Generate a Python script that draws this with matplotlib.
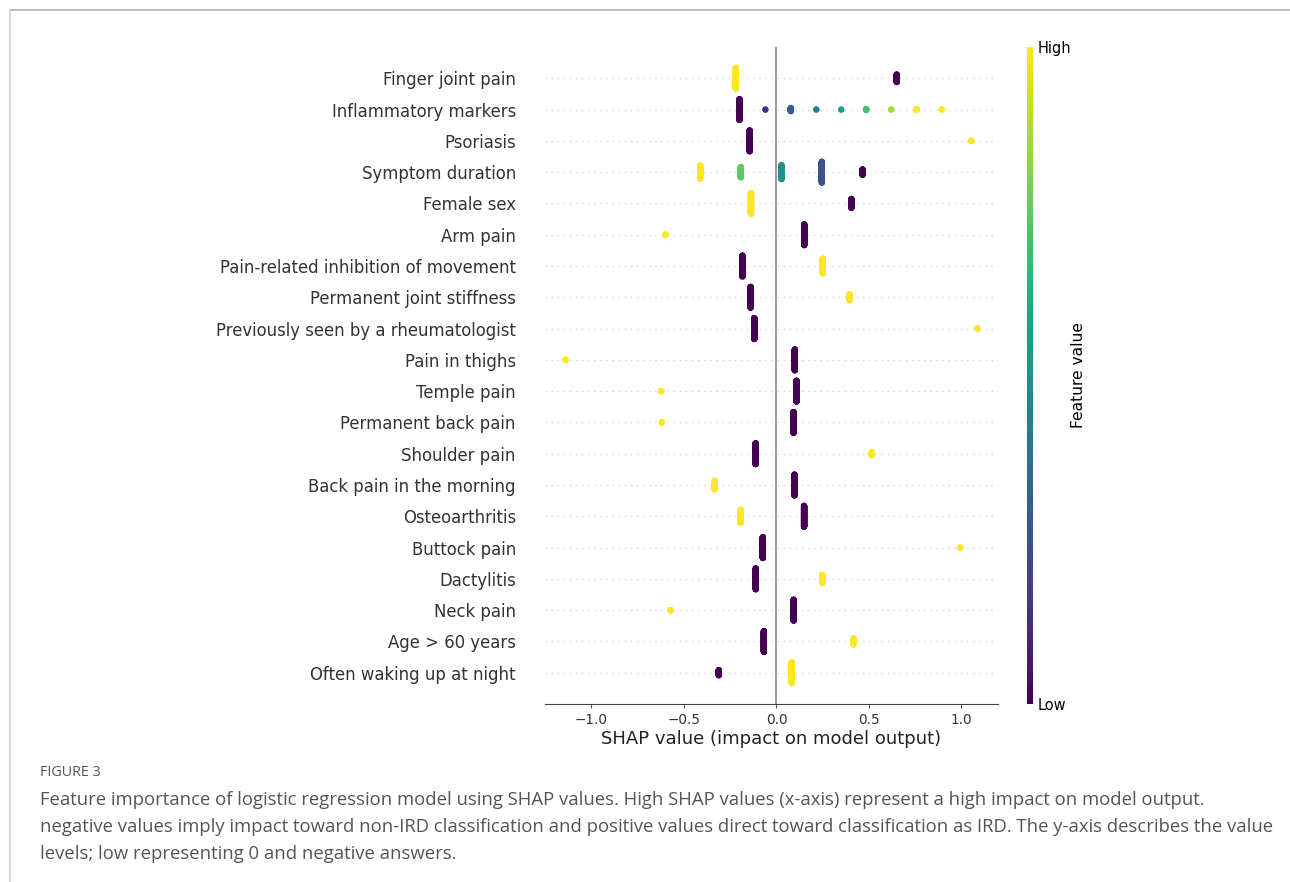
import numpy as np
import matplotlib
matplotlib.use("Agg")
import matplotlib.pyplot as plt
from matplotlib.lines import Line2D
from matplotlib.cm import ScalarMappable
from matplotlib.colors import Normalize

plt.rcParams["font.family"] = ["DejaVu Sans"]

# features, top to bottom as in the figure
features = [
    "Finger joint pain",
    "Inflammatory markers",
    "Psoriasis",
    "Symptom duration",
    "Female sex",
    "Arm pain",
    "Pain-related inhibition of movement",
    "Permanent joint stiffness",
    "Previously seen by a rheumatologist",
    "Pain in thighs",
    "Temple pain",
    "Permanent back pain",
    "Shoulder pain",
    "Back pain in the morning",
    "Osteoarthritis",
    "Buttock pain",
    "Dactylitis",
    "Neck pain",
    "Age > 60 years",
    "Often waking up at night",
]

# SHAP value of each distinct cluster per feature
shap_vals = [
    [-0.22, 0.65],
    [-0.20, -0.06, 0.077, 0.215, 0.35, 0.485, 0.62, 0.757, 0.893],
    [-0.145, 1.053],
    [-0.413, -0.193, 0.027, 0.245, 0.465],
    [-0.138, 0.405],
    [-0.60, 0.15],
    [-0.184, 0.25],
    [-0.14, 0.395],
    [-0.12, 1.086],
    [-1.14, 0.099],
    [-0.623, 0.108],
    [-0.62, 0.092],
    [-0.113, 0.515],
    [-0.334, 0.097],
    [-0.194, 0.149],
    [-0.074, 0.993],
    [-0.112, 0.248],
    [-0.573, 0.093],
    [-0.068, 0.416],
    [-0.312, 0.083],
]

# feature value (0 = low, 1 = high) of each cluster
feat_levels = [
    [1.0, 0.0],
    [0.0, 0.14, 0.29, 0.43, 0.57, 0.71, 0.86, 1.0, 1.0],
    [0.0, 1.0],
    [1.0, 0.75, 0.5, 0.25, 0.0],
    [1.0, 0.0],
    [1.0, 0.0],
    [0.0, 1.0],
    [0.0, 1.0],
    [0.0, 1.0],
    [1.0, 0.0],
    [1.0, 0.0],
    [1.0, 0.0],
    [0.0, 1.0],
    [1.0, 0.0],
    [1.0, 0.0],
    [0.0, 1.0],
    [0.0, 1.0],
    [1.0, 0.0],
    [0.0, 1.0],
    [0.0, 1.0],
]

# approximate number of patients in each cluster
counts = [
    [150, 55],
    [160, 2, 25, 2, 2, 8, 2, 8, 3],
    [200, 4],
    [95, 75, 100, 150, 40],
    [150, 65],
    [6, 200],
    [150, 107],
    [150, 43],
    [200, 4],
    [4, 200],
    [5, 200],
    [5, 200],
    [200, 30],
    [82, 200],
    [125, 200],
    [200, 4],
    [200, 75],
    [5, 200],
    [200, 57],
    [50, 200],
]

caption_title = "FIGURE 3"
caption_lines = [
    "Feature importance of logistic regression model using SHAP values. High SHAP values (x-axis) represent a high impact on model output.",
    "negative values imply impact toward non-IRD classification and positive values direct toward classification as IRD. The y-axis describes the value",
    "levels; low representing 0 and negative answers.",
]

W, H = 1290, 882
fig = plt.figure(figsize=(W / 100, H / 100), dpi=100)
ax = fig.add_axes([545 / W, 1 - 704 / H, 453 / W, 657 / H])

cmap = plt.get_cmap("viridis")
norm = Normalize(0, 1)
n = len(features)
row_height = 0.335

for i, name in enumerate(features):
    pos = n - 1 - i
    ax.axhline(pos, color="#c8c8c8", lw=0.8, dashes=(1, 4.5), zorder=-1)
    cmax = max(counts[i])
    for v, lev, c in zip(shap_vals[i], feat_levels[i], counts[i]):
        spread = row_height * c / cmax
        ys = pos + np.linspace(-spread, spread, max(c, 1))
        ax.scatter(np.full(len(ys), v), ys, c=np.full(len(ys), lev), cmap=cmap,
                   norm=norm, s=20, linewidths=0, zorder=3)

ax.axvline(0, color="#999999", lw=1.4, zorder=-1)

allv = np.concatenate([np.array(v) for v in shap_vals])
rng = allv.max() - allv.min()
ax.set_xlim(allv.min() - 0.05 * rng, allv.max() + 0.05 * rng)
ax.set_ylim(-1, n)

ax.set_yticks(range(n))
ax.set_yticklabels(features[::-1], fontsize=11.9, color="#333333")
ax.tick_params(axis="y", length=0, pad=21)
ax.tick_params(axis="x", labelsize=9.8, labelcolor="#333333", length=3,
               width=0.8, color="#555555")
ax.set_xlabel("SHAP value (impact on model output)", fontsize=13,
              color="#222222", labelpad=2)
for s in ["top", "right", "left"]:
    ax.spines[s].set_visible(False)
ax.spines["bottom"].set_color("#444444")

cax = fig.add_axes([1027 / W, 1 - 704 / H, 6 / W, 657 / H])
cb = fig.colorbar(ScalarMappable(norm=norm, cmap=cmap), cax=cax, ticks=[0, 1])
cb.set_ticklabels(["Low", "High"])
cb.ax.tick_params(labelsize=10.5, length=0, pad=3)
cb.set_label("Feature value", size=11.2, labelpad=0)
cb.outline.set_visible(False)

# page frame
fig.add_artist(Line2D([10 / W, 1], [1 - 10 / H] * 2, transform=fig.transFigure,
                      color="#b0b0b0", lw=1.2))
fig.add_artist(Line2D([10 / W] * 2, [1 - 10 / H, 0], transform=fig.transFigure,
                      color="#d0d0d0", lw=1.2))

fig.text(40 / W, 1 - 772 / H, caption_title, fontsize=10.3, color="#555555",
         family="Open Sans", va="center")
for k, line in enumerate(caption_lines):
    fig.text(40 / W, 1 - (800 + 27 * k) / H, line, fontsize=13.3, color="#555555",
             family="Open Sans", va="center")

fig.savefig("out.png", dpi=100)
